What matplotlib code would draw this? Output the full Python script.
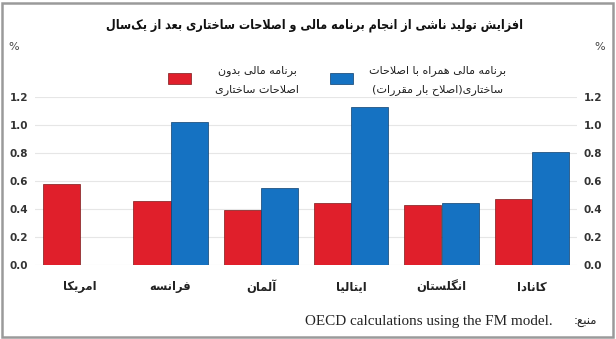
import numpy as np
import matplotlib
matplotlib.use("Agg")
import matplotlib.pyplot as plt
from matplotlib.patches import Rectangle

# data
categories = ['امریکا', 'فرانسه', 'آلمان', 'ایتالیا', 'انگلستان', 'کانادا']
no_reform = [0.58, 0.46, 0.39, 0.44, 0.43, 0.47]
with_reform = [np.nan, 1.02, 0.55, 1.13, 0.44, 0.81]
yticks = [0.0, 0.2, 0.4, 0.6, 0.8, 1.0, 1.2]

title = 'افزایش تولید ناشی از انجام برنامه مالی و اصلاحات ساختاری بعد از یک\u200cسال'
label_red = 'برنامه مالی بدون\nاصلاحات ساختاری'
label_blue = 'برنامه مالی همراه با اصلاحات\nساختاری(اصلاح بار مقررات)'
source_fa = 'منبع:'
source_en = 'OECD calculations using the FM model.'

RED = '#e01f2b'
BLUE = '#1572c2'

# minimal persian shaping (matplotlib has no bidi / joining)
dual4 = {'ب': 0xFE8F, 'ت': 0xFE95, 'ث': 0xFE99, 'ج': 0xFE9D, 'ح': 0xFEA1,
         'خ': 0xFEA5, 'س': 0xFEB1, 'ش': 0xFEB5, 'ص': 0xFEB9, 'ض': 0xFEBD,
         'ط': 0xFEC1, 'ظ': 0xFEC5, 'ع': 0xFEC9, 'غ': 0xFECD, 'ف': 0xFED1,
         'ق': 0xFED5, 'ل': 0xFEDD, 'م': 0xFEE1, 'ن': 0xFEE5, 'ه': 0xFEE9,
         'پ': 0xFB56, 'چ': 0xFB7A, 'ک': 0xFB8E, 'گ': 0xFB92, 'ی': 0xFBFC}
right2 = {'ا': 0xFE8D, 'آ': 0xFE81, 'د': 0xFEA9, 'ذ': 0xFEAB, 'ر': 0xFEAD,
          'ز': 0xFEAF, 'ژ': 0xFB8A, 'و': 0xFEED}


def shape_line(s):
    s = s.replace('ي', 'ی').replace('ك', 'ک')
    out = []
    i = 0
    n = len(s)
    while i < n:
        c = s[i]
        p = i > 0 and s[i - 1] in dual4
        if c == 'ل' and i + 1 < n and s[i + 1] in ('ا', 'آ'):
            base = 0xFEFB if s[i + 1] == 'ا' else 0xFEF5
            out.append(chr(base + (1 if p else 0)))
            i += 2
            continue
        if c in dual4 or c in right2:
            nxt = s[i + 1] if i + 1 < n else ''
            q = c in dual4 and (nxt in dual4 or nxt in right2)
            base = dual4.get(c, right2.get(c))
            out.append(chr(base + int(p) + 2 * int(q)))
        elif c != '\u200c':
            out.append(c)
        i += 1
    return ''.join(reversed(out)).translate(str.maketrans('()', ')('))


def fa(s):
    return '\n'.join(shape_line(l) for l in s.split('\n'))


plt.rcParams['font.family'] = ['DejaVu Sans']

fig = plt.figure(figsize=(6.16, 3.39), dpi=100)
ax = fig.add_axes([35 / 616, 74 / 339, 542 / 616, 168 / 339])

x = np.arange(len(categories))
w = 0.41
ax.bar(x - w / 2, no_reform, w, color=RED, edgecolor='#7a1a1a', linewidth=0.5, zorder=3)
ax.bar(x + w / 2, with_reform, w, color=BLUE, edgecolor='#0d3f6e', linewidth=0.5, zorder=3)

ax.set_xlim(-0.5, len(categories) - 0.5)
ax.set_ylim(0, 1.2)
ax.set_yticks(yticks)
ax.set_yticklabels([f'{v:.1f}' for v in yticks])
ax.set_xticks(x)
ax.set_xticklabels([fa(c) for c in categories], fontsize=8.3, fontweight='bold', color='#222222')
ax.tick_params(axis='x', length=0, pad=11)
ax.tick_params(axis='y', length=0, pad=5, labelsize=7.5, labelcolor='#333333')
for t in ax.get_yticklabels():
    t.set_fontweight('bold')
ax.grid(axis='y', color='#e6e6e6', linewidth=0.8, zorder=0)
for s in ax.spines.values():
    s.set_visible(False)

ax2 = ax.twinx()
ax2.set_ylim(0, 1.2)
ax2.set_yticks(yticks)
ax2.set_yticklabels([f'{v:.1f}' for v in yticks])
ax2.tick_params(axis='y', length=0, pad=5, labelsize=7.5, labelcolor='#333333')
for t in ax2.get_yticklabels():
    t.set_fontweight('bold')
for s in ax2.spines.values():
    s.set_visible(False)

fig.text(14 / 616, 1 - 47 / 339, '%', fontsize=8, color='#444444', ha='center', va='center')
fig.text(600 / 616, 1 - 47 / 339, '%', fontsize=8, color='#444444', ha='center', va='center')

fig.text(315 / 616, 1 - 25 / 339, fa(title), fontsize=9, fontweight='bold',
         fontstretch='condensed', ha='center', va='center', color='#111111')

# legend
fig.patches.append(Rectangle((168 / 616, 1 - 84 / 339), 23 / 616, 11 / 339,
                             transform=fig.transFigure, facecolor=RED,
                             edgecolor='#7a1a1a', linewidth=0.5))
fig.patches.append(Rectangle((330 / 616, 1 - 84 / 339), 23 / 616, 11 / 339,
                             transform=fig.transFigure, facecolor=BLUE,
                             edgecolor='#0d3f6e', linewidth=0.5))
fig.text(257 / 616, 1 - 80 / 339, fa(label_red), fontsize=8, ha='center', va='center',
         multialignment='center', linespacing=2.0, color='#222222',
         bbox=dict(facecolor='white', edgecolor='none', pad=1))
fig.text(438 / 616, 1 - 80 / 339, fa(label_blue), fontsize=8, ha='center', va='center',
         multialignment='center', linespacing=2.0, color='#222222',
         bbox=dict(facecolor='white', edgecolor='none', pad=1))

# source
fig.text(553 / 616, 1 - 322 / 339, source_en, fontsize=10.9, family='Liberation Serif',
         ha='right', va='center', color='#222222')
fig.text(597 / 616, 1 - 322 / 339, fa(source_fa), fontsize=8.5, ha='right', va='center',
         color='#222222')

# grey frame
fig.patches.append(Rectangle((2 / 616, 2 / 339), 611 / 616, 334 / 339, transform=fig.transFigure,
                             facecolor='none', edgecolor='#9a9a9a', linewidth=1.8))

fig.savefig('out.png', dpi=100)
